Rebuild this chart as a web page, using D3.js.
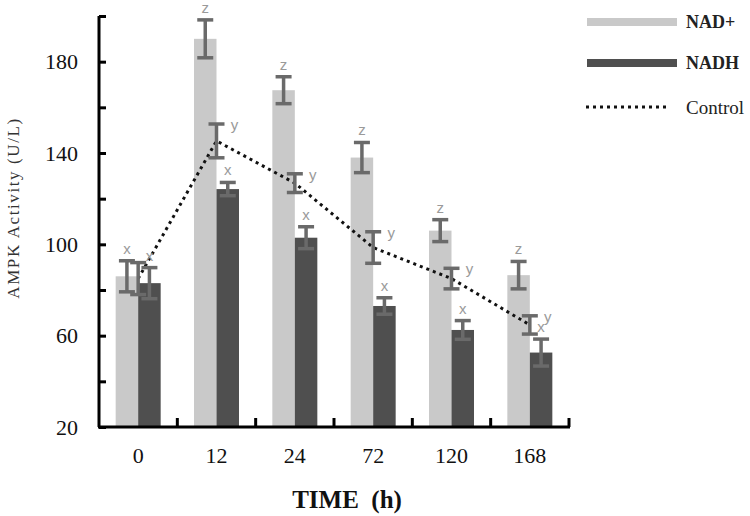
<!DOCTYPE html>
<html><head><meta charset="utf-8">
<script src="https://cdn.jsdelivr.net/npm/d3@7"></script>
<style>body{margin:0;background:#fff}svg{display:block}</style>
</head><body>
<script>
const categories = ["0","12","24","72","120","168"];
const nadPlus    = [86, 190, 167.5, 138, 106, 86.5];
const nadPlusErr = [6.8, 8.3, 5.9, 6.6, 4.8, 6];
const nadh       = [83, 124.2, 102.9, 73, 62.5, 52.6];
const nadhErr    = [6.8, 2.9, 4.8, 3.6, 4.1, 5.9];
const control    = [85, 145.3, 126.8, 98.6, 85, 64.7];
const controlErr = [7, 7.4, 4.1, 6.9, 4.5, 4];
const nadPlusLetters = ["x","z","z","z","z","z"];
const nadhLetters    = ["x","x","x","x","x","x"];
const controlLetters = ["","y","y","y","y","y"];
const yTicks = [20,40,60,80,100,120,140,160,180,200];
const yLabels = [20,60,100,140,180];
const seriesNames = ["NAD+","NADH","Control"];

const W=750,H=516;
const svg=d3.select("body").append("svg").attr("width",W).attr("height",H);
const serif="'Liberation Serif','Times New Roman',serif";
const sans="'Liberation Sans',Arial,sans-serif";

const y=d3.scaleLinear().domain([20,200]).range([427,16]);
const x=d3.scaleBand().domain(categories).range([99,569]);
const x1=d3.scaleBand().domain(["NAD+","NADH"]).range([x.bandwidth()/2-22.5, x.bandwidth()/2+22.5]);
const cx=c=>x(c)+x.bandwidth()/2;

const colNad="#c9c9c9", colNadh="#4f4f4f", errCol="#6a6a6a", letCol="#9a9a9a";

// bars
const g=svg.append("g");
g.selectAll("rect.nad").data(categories).join("rect")
  .attr("x",c=>x(c)+x1("NAD+")).attr("width",x1.bandwidth())
  .attr("y",(c,i)=>y(nadPlus[i])).attr("height",(c,i)=>y(20)-y(nadPlus[i]))
  .attr("fill",colNad);
g.selectAll("rect.nadh").data(categories).join("rect")
  .attr("x",c=>x(c)+x1("NADH")).attr("width",x1.bandwidth())
  .attr("y",(c,i)=>y(nadh[i])).attr("height",(c,i)=>y(20)-y(nadh[i]))
  .attr("fill",colNadh);

// control line
const line=d3.line().x((d,i)=>cx(categories[i])).y(d=>y(d));
svg.append("path").datum(control).attr("d",line).attr("fill","none")
  .attr("stroke","#111").attr("stroke-width",3).attr("stroke-dasharray","3,4");

// error bars
function errBars(xs, vals, errs){
  const eg=svg.append("g").attr("stroke",errCol).attr("stroke-width",3.5).attr("fill","none");
  vals.forEach((v,i)=>{
    const xx=xs(i), t=y(v+errs[i]), b=y(v-errs[i]);
    eg.append("line").attr("x1",xx).attr("x2",xx).attr("y1",t).attr("y2",b);
    eg.append("line").attr("x1",xx-8).attr("x2",xx+8).attr("y1",t).attr("y2",t);
    eg.append("line").attr("x1",xx-8).attr("x2",xx+8).attr("y1",b).attr("y2",b);
  });
}
const nadX=i=>x(categories[i])+x1("NAD+")+x1.bandwidth()/2;
const nadhX=i=>x(categories[i])+x1("NADH")+x1.bandwidth()/2;
const ctlX=i=>cx(categories[i]);
errBars(nadX,nadPlus,nadPlusErr);
errBars(ctlX,control,controlErr);
errBars(nadhX,nadh,nadhErr);

// letters
const lg=svg.append("g").attr("font-family",sans).attr("font-size",15).attr("fill",letCol).attr("text-anchor","middle");
nadPlus.forEach((v,i)=>lg.append("text").attr("x",nadX(i)).attr("y",y(v+nadPlusErr[i])-7).text(nadPlusLetters[i]));
nadh.forEach((v,i)=>lg.append("text").attr("x",nadhX(i)).attr("y",y(v+nadhErr[i])-7).text(nadhLetters[i]));
control.forEach((v,i)=>lg.append("text").attr("x",ctlX(i)+18).attr("y",y(v+controlErr[i])+6).text(controlLetters[i]));

// axes
const ya=svg.append("g").attr("transform","translate(99,0)")
  .call(d3.axisRight(y).tickValues(yTicks).tickSize(7).tickFormat(""));
ya.select(".domain").attr("d","M0,16V427").attr("stroke","#000").attr("stroke-width",3);
ya.selectAll(".tick line").attr("stroke","#000").attr("stroke-width",3);
svg.append("g").selectAll("text").data(yLabels).join("text")
  .attr("x",78).attr("y",d=>y(d)).attr("dy","0.35em").attr("text-anchor","end")
  .attr("font-family",serif).attr("font-size",22).attr("fill","#111").text(d=>d);

const xa=svg.append("g").attr("transform","translate(0,427)");
xa.append("line").attr("x1",98).attr("x2",570).attr("y1",0).attr("y2",0).attr("stroke","#000").attr("stroke-width",3);
const bounds=categories.map(c=>x(c)+x.bandwidth());
xa.selectAll("line.t").data(bounds).join("line").attr("class","t")
  .attr("x1",d=>d).attr("x2",d=>d).attr("y1",0).attr("y2",-9).attr("stroke","#000").attr("stroke-width",3);
xa.selectAll("text").data(categories).join("text")
  .attr("x",c=>cx(c)).attr("y",36).attr("text-anchor","middle")
  .attr("font-family",serif).attr("font-size",22).attr("fill","#111").text(c=>c);

svg.append("text").attr("x",347).attr("y",508).attr("text-anchor","middle")
  .attr("font-family",serif).attr("font-size",25).attr("font-weight","bold").attr("fill","#111")
  .style("white-space","pre").text("TIME  (h)");

svg.append("text").attr("transform","translate(19,208) rotate(-90)").attr("text-anchor","middle")
  .attr("font-family",serif).attr("font-size",17).attr("letter-spacing",1.6).attr("fill","#333").text("AMPK Activity (U/L)");

// legend
const leg=svg.append("g");
const ly=[22,63,107];
leg.append("rect").attr("x",587).attr("y",ly[0]-4).attr("width",90).attr("height",8).attr("fill",colNad);
leg.append("rect").attr("x",587).attr("y",ly[1]-4).attr("width",90).attr("height",8).attr("fill",colNadh);
leg.append("line").attr("x1",586).attr("x2",669).attr("y1",ly[2]).attr("y2",ly[2])
  .attr("stroke","#111").attr("stroke-width",3).attr("stroke-dasharray","3,4");
seriesNames.forEach((s,i)=>{
  leg.append("text").attr("x",686).attr("y",ly[i]).attr("dy","0.35em")
    .attr("font-family",serif).attr("font-size",i<2?18:19).attr("font-weight",i<2?"bold":"normal")
    .attr("fill","#222").text(s);
});
</script>
</body></html>
